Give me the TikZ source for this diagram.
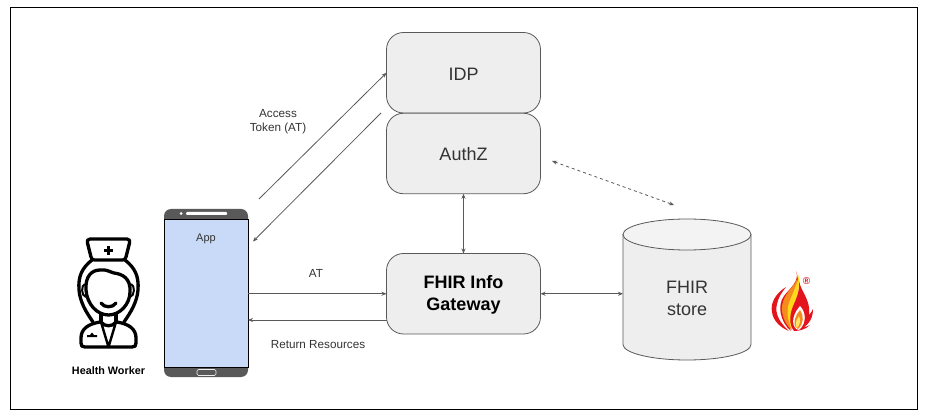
\documentclass[tikz,border=0pt]{standalone}
\usepackage{fontspec}
\setmainfont{Liberation Sans}
\usepackage{tikz}
\usetikzlibrary{arrows.meta}

\definecolor{boxfill}{HTML}{EEEEEE}
\definecolor{capfill}{HTML}{F3F3F3}
\definecolor{boxline}{HTML}{595959}
\definecolor{labeltext}{HTML}{333333}
\definecolor{screenblue}{HTML}{C9DAF8}
\definecolor{flamered}{HTML}{E3141C}
\definecolor{flameorange}{HTML}{F58A1F}
\definecolor{flameyellow}{HTML}{FFD91A}

\tikzset{
    servicebox/.style={draw=boxline, fill=boxfill, rounded corners=17pt, line width=0.8pt,
        minimum width=154pt, minimum height=80.5pt, inner sep=0pt, outer sep=0pt, text=labeltext,
        align=center, text height=15pt, text depth=0pt, font=\fontsize{18}{22}\selectfont},
    smalltext/.style={text=labeltext, align=center, inner sep=0pt, font=\fontsize{11.7}{14}\selectfont},
    link/.style={boxline, line width=0.8pt, >={Stealth[length=5pt,width=4pt]}},
    nurse/.style={line width=3.3pt, line cap=round, line join=round},
}

\begin{document}
\begin{tikzpicture}[x=1pt, y=-1pt]
            \useasboundingbox (0,0) rectangle (928,419);
            \node[draw=black, line width=1pt, minimum width=907pt, minimum height=401pt, inner sep=0pt] (frame) at (463.5,208.5) {};

            \node[servicebox] (idp) at (463.5,72.75) {IDP};
            \node[servicebox] (authz) at (463.5,153.5) {AuthZ};
            \node[servicebox] (gateway) at (463.5,293.75) {};
            \node[align=center, inner sep=0pt, text=black, font=\fontsize{18}{22}\selectfont\bfseries] (gatewaylabel) at (463.5,295) {FHIR Info\\Gateway};

            \node[minimum width=128pt, minimum height=141pt, inner sep=0pt, outer sep=0pt] (store) at (687,289.5) {};
            \draw[boxline, fill=boxfill, line width=0.8pt] (623,234.5) -- (623,344.5)
                arc[start angle=180, end angle=360, x radius=64pt, y radius=15.5pt] -- (751,234.5) -- cycle;
            \draw[boxline, fill=capfill, line width=0.8pt] (687,234.5) ellipse[x radius=64pt, y radius=15.5pt];
            \node[text=labeltext, align=center, inner sep=0pt, font=\fontsize{18}{22}\selectfont] (storelabel) at (687,298) {FHIR\\store};

            \node[fill=boxline, rounded corners=7pt, minimum width=84pt, minimum height=168pt, inner sep=0pt] (phone) at (206,293) {};
            \node[draw=black, fill=screenblue, line width=0.8pt, minimum width=84pt, minimum height=148pt, inner sep=0pt, outer sep=0pt] (screen) at (206,293) {};
            \node[smalltext, font=\fontsize{11}{13}\selectfont] (applabel) at (206,238.5) {App};
            \node[fill=white, rounded corners=1pt, minimum width=41pt, minimum height=3pt, inner sep=0pt] (speaker) at (206.5,213.5) {};
            \node[fill=white, circle, minimum size=3pt, inner sep=0pt] (camera) at (181,213.5) {};
            \node[draw=boxfill, rounded corners=1.5pt, line width=0.7pt, minimum width=19pt, minimum height=6pt, inner sep=0pt] (homekey) at (206.5,372.5) {};

            \coordinate (tokenup) at (259,199);
            \coordinate (tokenfrom) at (381,113);
            \coordinate (tokendown) at (253,241.5);
            \coordinate (retstart) at (386.5,320);
            \coordinate (retend) at (248,320);
            \coordinate (dashone) at (552,161);
            \coordinate (dashtwo) at (674,205);

            \draw[link,->] (tokenup) -- (idp.west);
            \draw[link,->] (tokenfrom) -- (tokendown);
            \draw[link,<->] (authz.south) -- (gateway.north);
            \draw[link,<->,dashed] (dashone) -- (dashtwo);
            \draw[link,->] (screen.east |- gateway.west) -- (gateway.west);
            \draw[link,->] (retstart) -- (retend);
            \draw[link,<->] (gateway.east) -- (store.west |- gateway.east);

            \node[smalltext] (tokenlabel) at (278,122) {Access\\Token (AT)};
            \node[smalltext] (atlabel) at (316,273) {AT};
            \node[smalltext] (returnlabel) at (318,344.5) {Return Resources};
            \node[smalltext, text=black, font=\fontsize{10.8}{13}\selectfont\bfseries] (workerlabel) at (108.5,370.5) {Health Worker};

            % nurse
            \draw[nurse] (90,239) -- (127,239) .. controls (130,239) and (130,241) .. (129.5,243) -- (126,257)
                .. controls (125.5,260) and (124,260) .. (122,260) -- (95,260) .. controls (93,260) and (91.5,260) .. (91,257)
                -- (87.5,243) .. controls (87,241) and (87,239) .. (90,239) -- cycle;
            \draw[line width=3pt] (104,250.5) -- (113,250.5) (108.5,246) -- (108.5,255);
            \draw[nurse] (92,260) .. controls (82,268) and (78,276) .. (79,290) .. controls (80,302) and (86,312) .. (93,322);
            \draw[nurse] (125,260) .. controls (135,268) and (139,276) .. (138,290) .. controls (137,302) and (131,312) .. (124,322);
            \draw[nurse] (86,290) .. controls (85,276) and (92,270) .. (100,270) .. controls (106,269) and (110,272) .. (114,273)
                .. controls (122,274) and (131,278) .. (130,292) .. controls (130,304) and (120,315) .. (108.5,315)
                .. controls (97,315) and (87,304) .. (86,290) -- cycle;
            \draw[line width=2pt] (85,284) .. controls (81,285) and (81,296) .. (86,297);
            \draw[line width=2pt] (131,284) .. controls (135,285) and (135,296) .. (130,297);
            \draw[nurse] (101,303) .. controls (104,308) and (113,308) .. (116,303);
            \draw[nurse] (101,314) -- (101,322) (116,314) -- (116,322);
            \draw[nurse] (100,322) .. controls (88,324) and (81,329) .. (81,338) -- (81,343) .. controls (81,346) and (82,347) .. (85,347)
                -- (132,347) .. controls (135,347) and (136,346) .. (136,343) -- (136,338) .. controls (136,329) and (129,324) .. (117,322);
            \draw[line width=2.4pt, line join=round] (101,322) -- (108.5,347) -- (116,322);
            \draw[nurse] (101,322) .. controls (104,327) and (113,327) .. (116,322);
            \fill (87,337) -- (97,337) -- (97,335) -- (94,335) -- (92,332.5) -- (90,335) -- (87,335) -- cycle;

            % flame
            \fill[flamered] (786,287) .. controls (776,293) and (770,303) .. (772,312)
                .. controls (773,321) and (781,328) .. (789,331) .. controls (781,324) and (774,314) .. (777,304)
                .. controls (778,298) and (782,292) .. (786,287) -- cycle;
            \fill[flamered] (796,271) .. controls (800,281) and (790,288) .. (784,296)
                .. controls (777,305) and (780,322) .. (791,331) .. controls (786,320) and (788,307) .. (792,300)
                .. controls (797,291) and (800,281) .. (796,271) -- cycle;
            \fill[flameorange] (792,287) .. controls (786,294) and (781,302) .. (782,311)
                .. controls (783,320) and (788,327) .. (792,330) .. controls (787,318) and (789,306) .. (794,297)
                .. controls (797,291) and (797,284) .. (797,279) .. controls (796,282) and (794,285) .. (792,287) -- cycle;
            \fill[flameyellow] (799,273) .. controls (798,284) and (792,294) .. (789,303)
                .. controls (786,312) and (788,322) .. (792,329) .. controls (791,316) and (794,305) .. (797,296)
                .. controls (799,289) and (800,281) .. (799,273) -- cycle;
            \fill[flamered] (799,281) .. controls (801,292) and (811,300) .. (809,315)
                .. controls (811,313) and (812,311) .. (813,309) .. controls (813,318) and (809,324) .. (804,327)
                .. controls (806,327) and (808,326) .. (810,325) .. controls (806,329) and (800,331) .. (794,331)
                .. controls (788,324) and (790,312) .. (794,304) .. controls (797,297) and (800,289) .. (799,281) -- cycle;
            \fill[white] (800,306) .. controls (806,312) and (807,323) .. (799,330)
                .. controls (792,329) and (790,317) .. (800,306) -- cycle;
            \fill[flameorange] (800,310) .. controls (804,315) and (804,324) .. (798,329)
                .. controls (793,328) and (793,318) .. (800,310) -- cycle;
            \fill[flameyellow!70!white] (799,316) .. controls (801,320) and (800,325) .. (797,328)
                .. controls (795,327) and (795,321) .. (799,316) -- cycle;
            \node[text=flamered, inner sep=0pt, font=\fontsize{10}{10}\selectfont\bfseries] (regmark) at (806.5,281) {®};
        \end{tikzpicture}
\end{document}
